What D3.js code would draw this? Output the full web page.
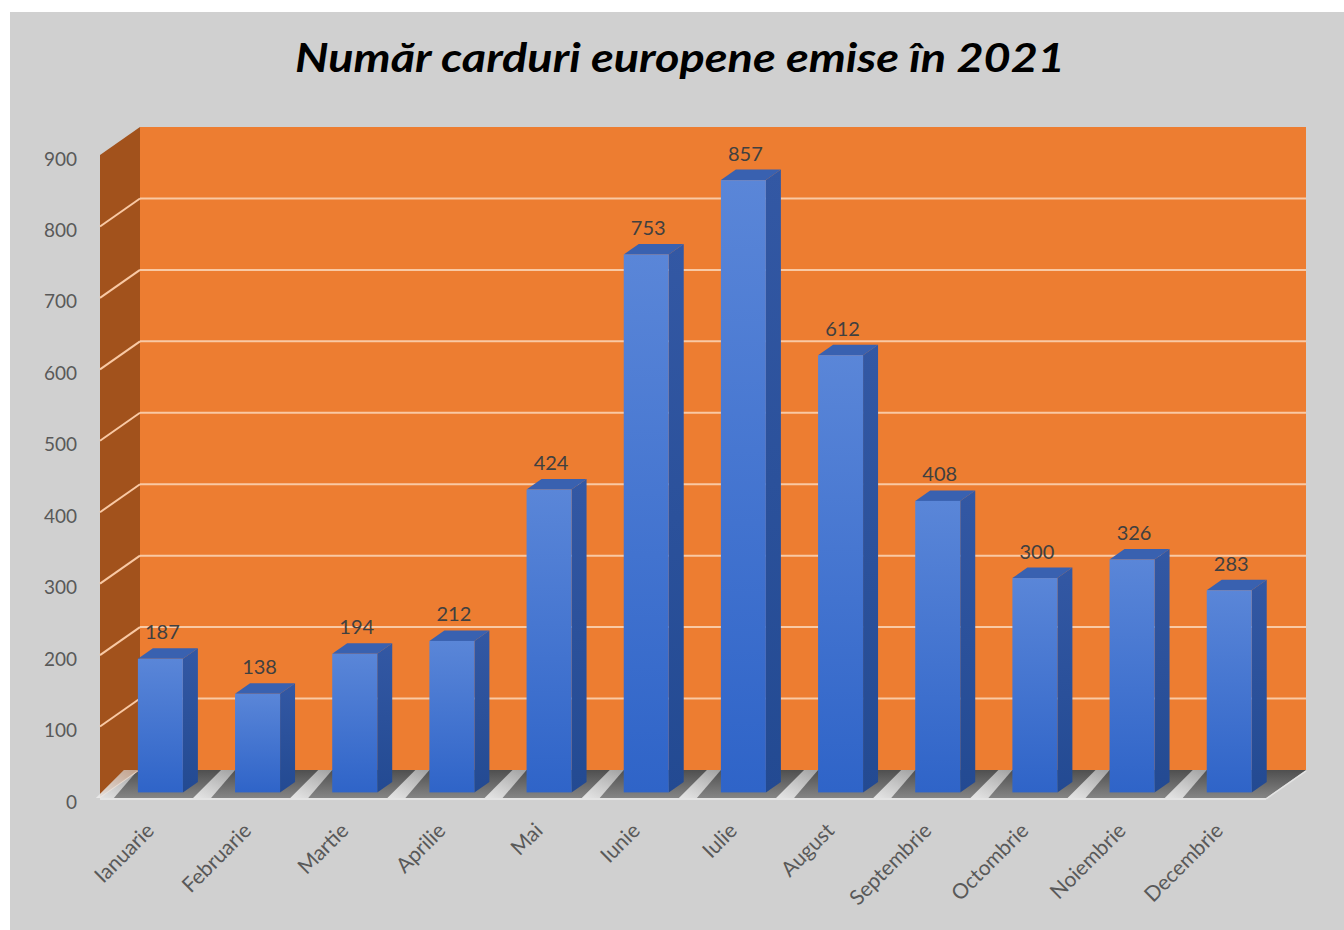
<!DOCTYPE html>
<html>
<head>
<meta charset="utf-8">
<script src="https://cdn.jsdelivr.net/npm/d3@7"></script>
<style>
  body { margin: 0; background: #fff; }
  text { font-family: Lato, "Open Sans", sans-serif; }
</style>
</head>
<body>
<div id="chart"></div>
<script>
var months = ["Ianuarie", "Februarie", "Martie", "Aprilie", "Mai", "Iunie", "Iulie",
    "August", "Septembrie", "Octombrie", "Noiembrie", "Decembrie"];
var values = [187, 138, 194, 212, 424, 753, 857, 612, 408, 300, 326, 283];
var yTicks = [0, 100, 200, 300, 400, 500, 600, 700, 800, 900];
var title = "Număr carduri europene emise în 2021";

var W = 1344, H = 930;
// depth of the 3d box (front plane -> back wall)
var dx = 40, dy = -28;
// bars sit between 20% and 57% of the depth
var bFront = 0.2, bDepth = 0.375;

var svg = d3.select("#chart").append("svg")
    .attr("width", W)
    .attr("height", H);

var defs = svg.append("defs");

var gFront = defs.append("linearGradient").attr("id", "barFront")
    .attr("x1", 0).attr("y1", 0).attr("x2", 0).attr("y2", 1);
gFront.append("stop").attr("offset", "0%").attr("stop-color", "#5a86d8");
gFront.append("stop").attr("offset", "100%").attr("stop-color", "#2f64c8");

var gSide = defs.append("linearGradient").attr("id", "barSide")
    .attr("x1", 0).attr("y1", 0).attr("x2", 0).attr("y2", 1);
gSide.append("stop").attr("offset", "0%").attr("stop-color", "#3358a4");
gSide.append("stop").attr("offset", "100%").attr("stop-color", "#234a92");

var gFloor = defs.append("linearGradient").attr("id", "floor")
    .attr("x1", 0).attr("y1", 0).attr("x2", 0).attr("y2", 1);
gFloor.append("stop").attr("offset", "0%").attr("stop-color", "#4f4f4f");
gFloor.append("stop").attr("offset", "100%").attr("stop-color", "#858585");

var gStripe = defs.append("linearGradient").attr("id", "stripe")
    .attr("x1", 0).attr("y1", 1).attr("x2", 1).attr("y2", 0);
gStripe.append("stop").attr("offset", "0%").attr("stop-color", "#ebebeb").attr("stop-opacity", 0.95);
gStripe.append("stop").attr("offset", "100%").attr("stop-color", "#d6d6d6").attr("stop-opacity", 0.6);

// background
svg.append("rect")
    .attr("x", 10).attr("y", 12)
    .attr("width", W - 10).attr("height", H - 12)
    .attr("fill", "#d0d0d0");

// title
svg.append("text")
    .attr("x", 680)
    .attr("y", 72)
    .attr("text-anchor", "middle")
    .attr("textLength", 770)
    .attr("lengthAdjust", "spacingAndGlyphs")
    .style("font-size", "40px")
    .style("font-weight", "bold")
    .style("font-style", "italic")
    .attr("fill", "#000")
    .text(title);

// scales (front plane)
var y = d3.scaleLinear().domain([0, 900]).range([798, 155]);
var x = d3.scaleBand().domain(months).range([100, 1266]);

// back wall
svg.append("rect")
    .attr("x", 100 + dx)
    .attr("y", y(900) + dy)
    .attr("width", 1166)
    .attr("height", y(0) - y(900))
    .attr("fill", "#ed7d31");

// side wall
svg.append("polygon")
    .attr("points", [[100, y(0)], [100, y(900)], [100 + dx, y(900) + dy], [100 + dx, y(0) + dy]].join(" "))
    .attr("fill", "#a2521c");

// gridlines
svg.selectAll("line.grid")
    .data(yTicks.filter(function(d) { return d > 0 && d < 900; }))
    .enter()
    .append("line")
    .attr("class", "grid")
    .attr("x1", 100 + dx).attr("x2", 1266 + dx)
    .attr("y1", function(d) { return y(d) + dy; })
    .attr("y2", function(d) { return y(d) + dy; })
    .attr("stroke", "#f9c9a4")
    .attr("stroke-width", 2);

svg.selectAll("line.sidegrid")
    .data(yTicks.filter(function(d) { return d < 900; }))
    .enter()
    .append("line")
    .attr("class", "sidegrid")
    .attr("x1", 100).attr("x2", 100 + dx)
    .attr("y1", function(d) { return y(d); })
    .attr("y2", function(d) { return y(d) + dy; })
    .attr("stroke", "#f9c9a4")
    .attr("stroke-width", 2);

// floor
svg.append("polygon")
    .attr("points", [[100, y(0)], [1266, y(0)], [1266 + dx, y(0) + dy], [100 + dx, y(0) + dy]].join(" "))
    .attr("fill", "url(#floor)");

var barW = 45;
function barX(m) { return x(m) + x.bandwidth() * 0.39; }

// light stripes on the floor, left of each bar
svg.selectAll("polygon.stripe")
    .data(months)
    .enter()
    .append("polygon")
    .attr("class", "stripe")
    .attr("points", function(m) {
        var bx = barX(m);
        return [[bx - 42, y(0)], [bx - 24, y(0)], [bx, y(0) + dy], [bx - 14, y(0) + dy]].join(" ");
    })
    .attr("fill", "url(#stripe)");

// floor front edge
svg.append("line")
    .attr("x1", 100).attr("x2", 1266)
    .attr("y1", y(0) + 1).attr("y2", y(0) + 1)
    .attr("stroke", "#e4e4e4")
    .attr("stroke-width", 2);
svg.append("line")
    .attr("x1", 1266).attr("x2", 1266 + dx)
    .attr("y1", y(0) + 1).attr("y2", y(0) + dy + 1)
    .attr("stroke", "#e4e4e4")
    .attr("stroke-width", 1.5);

// bars
var ox = dx * bFront, oy = dy * bFront;
var sx = dx * bDepth, sy = dy * bDepth;

var bars = svg.selectAll("g.bar")
    .data(months)
    .enter()
    .append("g")
    .attr("class", "bar");

bars.append("polygon")
    .attr("points", function(m, i) {
        var x0 = barX(m) + barW, top = y(values[i]) + oy, bot = y(0) + oy;
        return [[x0, top], [x0 + sx, top + sy], [x0 + sx, bot + sy], [x0, bot]].join(" ");
    })
    .attr("fill", "url(#barSide)");

bars.append("polygon")
    .attr("points", function(m, i) {
        var x0 = barX(m), top = y(values[i]) + oy;
        return [[x0, top], [x0 + sx, top + sy], [x0 + barW + sx, top + sy], [x0 + barW, top]].join(" ");
    })
    .attr("fill", "#3961b0");

bars.append("rect")
    .attr("x", function(m) { return barX(m); })
    .attr("y", function(m, i) { return y(values[i]) + oy; })
    .attr("width", barW)
    .attr("height", function(m, i) { return y(0) - y(values[i]); })
    .attr("fill", "url(#barFront)");

// value labels
bars.append("text")
    .attr("x", function(m) { return barX(m) + barW / 2 + 2; })
    .attr("y", function(m, i) { return y(values[i]) + oy + sy - 9; })
    .attr("text-anchor", "middle")
    .style("font-size", "20px")
    .attr("fill", "#404040")
    .text(function(m, i) { return values[i]; });

// y axis labels
svg.selectAll("text.ytick")
    .data(yTicks)
    .enter()
    .append("text")
    .attr("class", "ytick")
    .attr("x", 77)
    .attr("y", function(d) { return y(d) + 3; })
    .attr("text-anchor", "end")
    .attr("dominant-baseline", "central")
    .style("font-size", "19px")
    .attr("fill", "#595959")
    .text(function(d) { return d; });

// x axis labels
svg.selectAll("text.xtick")
    .data(months)
    .enter()
    .append("text")
    .attr("class", "xtick")
    .attr("transform", function(m) {
        return "translate(" + (barX(m) + barW / 2 - 5) + ",832) rotate(-45)";
    })
    .attr("text-anchor", "end")
    .style("font-size", "21px")
    .attr("fill", "#595959")
    .text(function(m) { return m; });
</script>
</body>
</html>
